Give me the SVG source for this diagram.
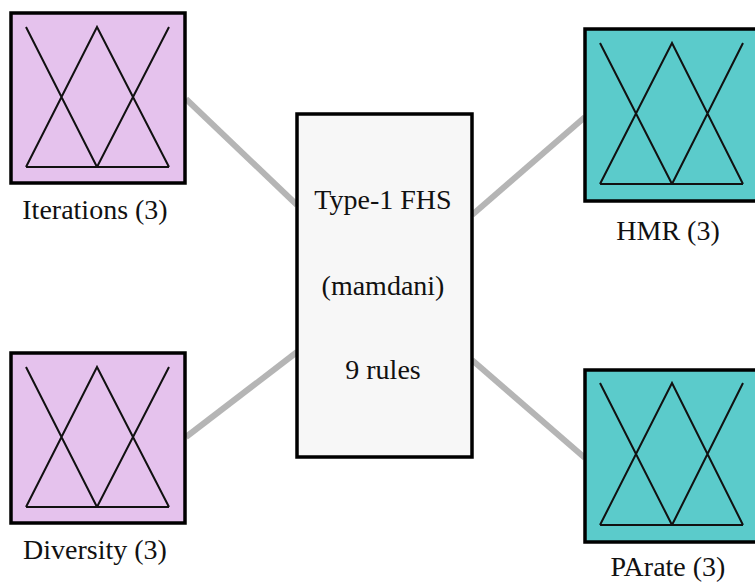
<svg xmlns="http://www.w3.org/2000/svg" width="755" height="582" viewBox="0 0 755 582">
<style>
.box{stroke:#000;stroke-width:3.5}
.in{fill:#e5c2ed}
.out{fill:#5bcbcb}
.sys{fill:#f7f7f7}
.mf{fill:none;stroke:#111;stroke-width:2;stroke-linejoin:miter}
.lbl{font-family:'Liberation Serif','DejaVu Serif',serif;font-size:28px;fill:#111;text-anchor:middle}
.conn{stroke:#b5b5b5;stroke-width:6;stroke-linecap:butt}
</style>
<rect width="755" height="582" fill="#fff"/>
<g id="connectors">
<line class="conn" x1="186" y1="99" x2="297" y2="205"/>
<line class="conn" x1="186" y1="437" x2="297" y2="352"/>
<line class="conn" x1="472" y1="215" x2="585" y2="117"/>
<line class="conn" x1="472" y1="360" x2="585" y2="458"/>
</g>
<g id="iterations">
<rect class="box in" x="11" y="13" width="174" height="170"/>
<path class="mf" d="M26,27 L97,167 M26,167 L97,27 L169,167 M97,167 L169,27 M26,167 L169,167"/>
<text class="lbl" x="95" y="219" font-family="Liberation Serif">Iterations (3)</text>
</g>
<g id="diversity">
<rect class="box in" x="11" y="353" width="174" height="170"/>
<path class="mf" d="M26,367 L97,507 M26,507 L97,367 L169,507 M97,507 L169,367 M26,507 L169,507"/>
<text class="lbl" x="95" y="559" font-family="Liberation Serif">Diversity (3)</text>
</g>
<g id="fhs">
<rect class="box sys" x="297" y="114" width="175" height="343"/>
<text class="lbl" x="383" y="209" font-family="Liberation Serif">Type-1 FHS</text>
<text class="lbl" x="383" y="295" font-family="Liberation Serif">(mamdani)</text>
<text class="lbl" x="383" y="379" font-family="Liberation Serif">9 rules</text>
</g>
<g id="hmr">
<rect class="box out" x="585" y="29" width="176" height="172"/>
<path class="mf" d="M600,43 L672,184 M600,184 L672,43 L743,184 M672,184 L743,43 M600,184 L743,184"/>
<text class="lbl" x="668" y="240" font-family="Liberation Serif">HMR (3)</text>
</g>
<g id="parate">
<rect class="box out" x="585" y="370" width="176" height="172"/>
<path class="mf" d="M600,383 L672,525 M600,525 L672,383 L743,525 M672,525 L743,383 M600,525 L743,525"/>
<text class="lbl" x="668" y="576" font-family="Liberation Serif">PArate (3)</text>
</g>
</svg>
